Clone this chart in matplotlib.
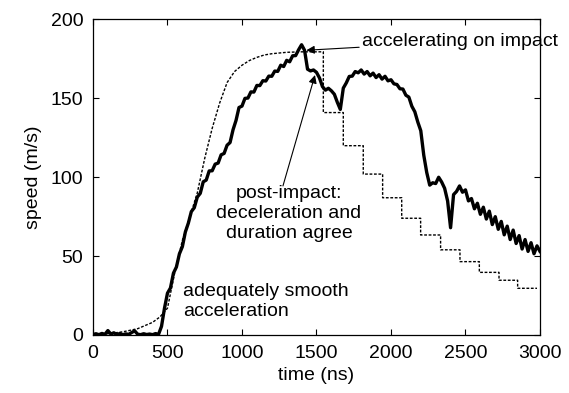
import matplotlib
matplotlib.use("Agg")
import matplotlib.pyplot as plt

plt.rcParams['font.family'] = ['Liberation Sans', 'DejaVu Sans']

# measured speed (solid, noisy), sampled every 20 ns
t_meas = list(range(0, 3001, 20))
v_meas = [0.3, 0.8, 0.2, 1.0, 0.4, 2.8, 0.6, 1.4, 0.3, 0.9,
          0.2, 0.7, 0.4, 1.6, 2.6, 0.5, 0.2, 0.8, 0.3, 0.6,
          0.2, 0.9, 0.4, 5.5, 17.0, 26.5, 29.8, 39.2, 43.1, 51.4,
          56.0, 65.3, 70.9, 78.2, 80.7, 87.4, 89.8, 97.1, 98.2, 104.0,
          104.1, 108.3, 109.0, 114.2, 115.1, 120.3, 122.0, 130.1, 136.0, 144.2,
          145.1, 150.0, 150.2, 154.1, 154.0, 158.2, 158.1, 161.2, 161.0, 164.1,
          164.0, 167.3, 167.1, 171.0, 170.2, 174.1, 173.2, 177.0, 177.1, 180.8,
          184.0, 180.5, 168.5, 167.4, 168.0, 166.5, 163.0, 157.5, 155.2, 156.4,
          154.8, 152.6, 147.5, 143.0, 156.5, 159.8, 163.9, 164.1, 167.0, 166.2,
          168.0, 165.4, 167.0, 164.3, 166.0, 163.2, 165.0, 162.2, 164.0, 161.1,
          161.8, 159.2, 158.8, 156.1, 155.9, 152.0, 150.8, 145.0, 141.5, 135.0,
          129.5, 114.0, 103.0, 95.0, 96.5, 96.0, 100.0, 97.0, 93.0, 85.0,
          68.0, 89.0, 91.0, 94.5, 90.5, 92.0, 85.0, 86.5, 80.0, 83.5,
          76.5, 81.0, 73.5, 78.5, 70.0, 75.0, 67.0, 72.0, 63.5, 69.0,
          60.5, 66.5, 58.0, 63.0, 54.5, 60.5, 53.0, 58.5, 51.5, 56.5,
          53.0]

# model (dashed): smooth acceleration then staircase deceleration
t_model = [0, 100, 200, 300, 400, 450, 500, 550, 600, 650, 700, 750, 800,
           850, 900, 950, 1000, 1050, 1100, 1150, 1200, 1300, 1400, 1546]
v_model = [0.3, 0.8, 2.0, 4.0, 8.0, 11.5, 17.0, 40.0, 60.0, 75.0, 90.0, 112.0,
           131.0, 147.0, 160.0, 167.0, 171.0, 174.0, 176.0, 177.5, 178.3, 179.2,
           179.5, 179.5]
step_edges = [1546, 1680, 1814, 1944, 2072, 2199, 2333, 2463, 2593, 2725, 2850, 2980]
step_levels = [141, 120, 102, 87, 74, 63.4, 54, 46.5, 39.7, 34.7, 29.6]

xs = list(t_model)
ys = list(v_model)
prev = v_model[-1]
for i, lvl in enumerate(step_levels):
    xs += [step_edges[i], step_edges[i]]
    ys += [prev, lvl]
    prev = lvl
xs.append(step_edges[-1])
ys.append(prev)

fig = plt.figure(figsize=(5.69, 3.93), dpi=100)
ax = fig.add_axes([0.1634, 0.1476, 0.7856, 0.8028])

ax.plot(xs, ys, color='black', lw=1.0, ls=(0, (2.0, 1.2)))
ax.plot(t_meas, v_meas, color='black', lw=2.4)

ax.set_xlim(0, 3000)
ax.set_ylim(0, 200)
ax.set_xticks([0, 500, 1000, 1500, 2000, 2500, 3000])
ax.set_yticks([0, 50, 100, 150, 200])
ax.tick_params(direction='in', length=4, width=0.8, top=True, right=True,
               labelsize=14, pad=7)
for s in ax.spines.values():
    s.set_linewidth(0.9)
ax.set_xlabel('time (ns)', fontsize=14, labelpad=4)
ax.set_ylabel('speed (m/s)', fontsize=14, labelpad=6)

fs = 14
arrow = dict(arrowstyle='-|>', color='black', lw=0.8, mutation_scale=12,
             shrinkA=0, shrinkB=0)
ax.annotate('accelerating on impact', xy=(1432, 180.5), xytext=(1805, 186),
            ha='left', va='center', fontsize=fs, arrowprops=arrow,
            annotation_clip=False)
ax.text(1315, 77, 'post-impact:\ndeceleration and\nduration agree',
        ha='center', va='center', fontsize=fs, multialignment='center',
        linespacing=1.2)
ax.annotate('', xy=(1490, 164.8), xytext=(1275, 94.5), arrowprops=arrow)
ax.text(604, 21.0, 'adequately smooth\nacceleration', ha='left', va='center',
        fontsize=fs, multialignment='left', linespacing=1.25)

fig.savefig('out.png', dpi=100)
